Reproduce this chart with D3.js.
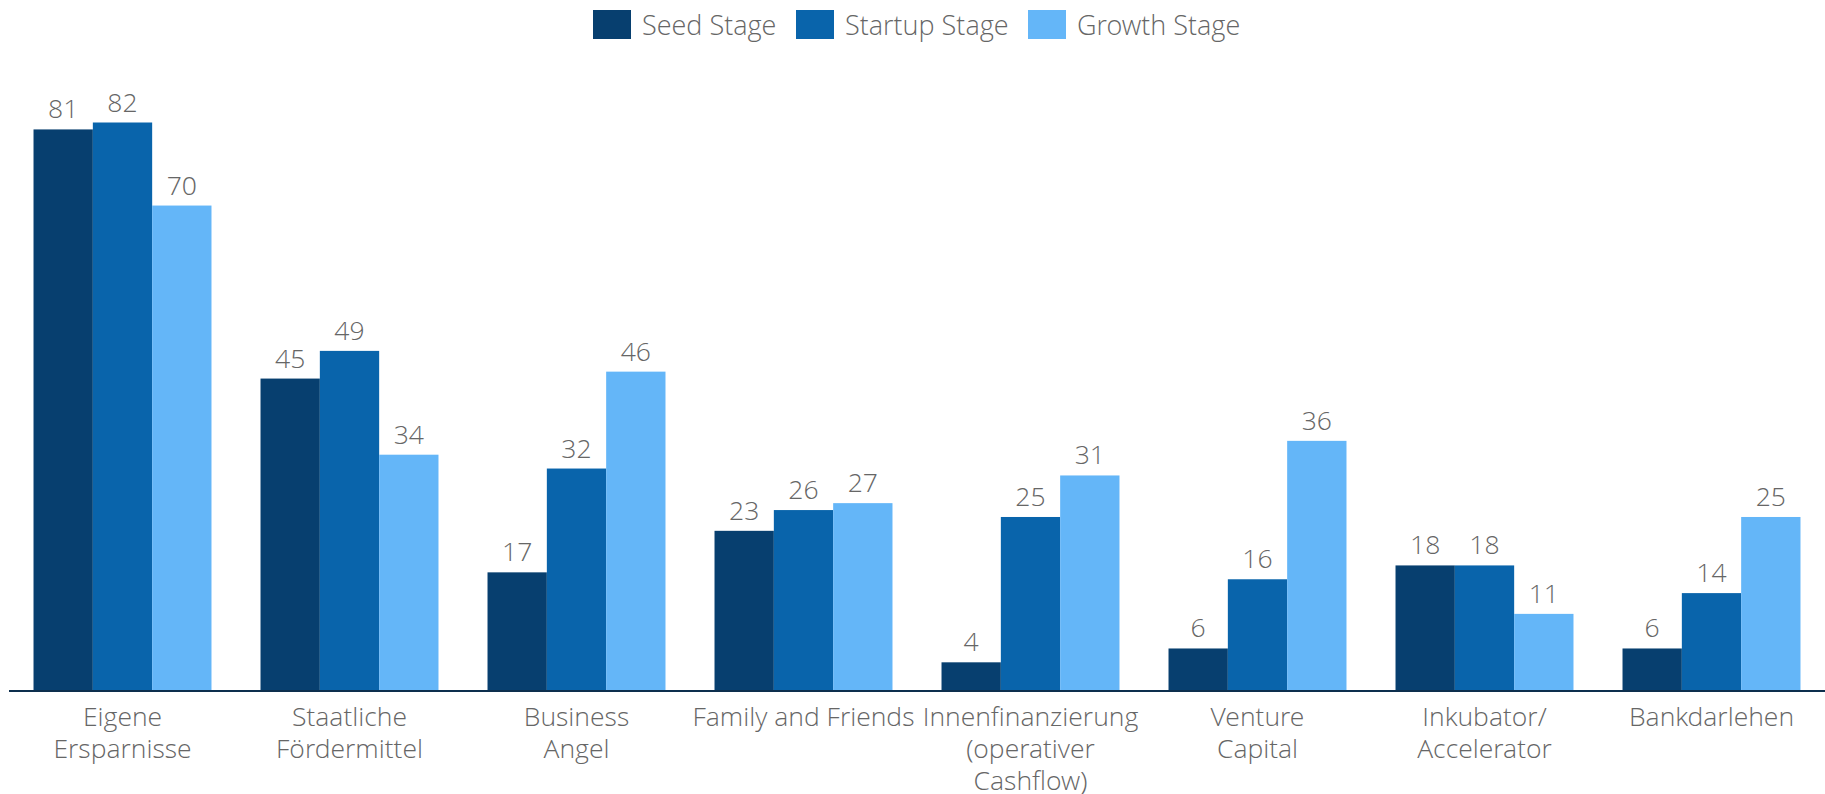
<!DOCTYPE html>
<html>
<head>
<meta charset="utf-8">
<script src="https://cdn.jsdelivr.net/npm/d3@7"></script>
<style>
  body { margin: 0; background: #fff; }
  svg text { font-family: "Open Sans Light", "Open Sans", sans-serif; font-weight: 300; fill: #666; }
</style>
</head>
<body>
<svg id="chart" width="1825" height="794"></svg>
<script>
// categories (lines of each x label)
var categories = [
  ["Eigene", "Ersparnisse"],
  ["Staatliche", "Fördermittel"],
  ["Business", "Angel"],
  ["Family and Friends"],
  ["Innenfinanzierung", "(operativer", "Cashflow)"],
  ["Venture", "Capital"],
  ["Inkubator/", "Accelerator"],
  ["Bankdarlehen"]
];
var seriesNames = ["Seed Stage", "Startup Stage", "Growth Stage"];
var seedStage    = [81, 45, 17, 23, 4, 6, 18, 6];
var startupStage = [82, 49, 32, 26, 25, 16, 18, 14];
var growthStage  = [70, 34, 46, 27, 31, 36, 11, 25];
var colors = ["#073f6f", "#0964ab", "#64b6f8"];

var series = [seedStage, startupStage, growthStage];
var keys = categories.map(function(c) { return c.join(" "); });

var svg = d3.select("#chart");

var x = d3.scaleBand()
  .domain(keys)
  .range([9, 1825])
  .paddingInner(0.216)
  .paddingOuter(0.108);

var xi = d3.scaleBand()
  .domain(d3.range(series.length))
  .range([0, x.bandwidth()]);

var y = d3.scaleLinear()
  .domain([0, 82])
  .range([690, 122.5]);

// bars
var groups = svg.append("g")
  .selectAll("g")
  .data(keys)
  .enter()
  .append("g")
    .attr("transform", function(d) { return "translate(" + x(d) + ",0)"; });

groups.selectAll("rect")
  .data(function(d, i) { return series.map(function(s, j) { return {s: j, v: s[i]}; }); })
  .enter()
  .append("rect")
    .attr("x", function(d) { return xi(d.s); })
    .attr("width", xi.bandwidth())
    .attr("y", function(d) { return y(d.v); })
    .attr("height", function(d) { return y(0) - y(d.v); })
    .attr("fill", function(d) { return colors[d.s]; });

groups.selectAll("text.value")
  .data(function(d, i) { return series.map(function(s, j) { return {s: j, v: s[i]}; }); })
  .enter()
  .append("text")
    .attr("class", "value")
    .attr("x", function(d) { return xi(d.s) + xi.bandwidth() / 2; })
    .attr("y", function(d) { return y(d.v) - 11; })
    .attr("text-anchor", "middle")
    .style("font-size", "26.5px")
    .text(function(d) { return d.v; });

// x axis line
svg.append("line")
  .attr("x1", 9).attr("x2", 1825)
  .attr("y1", 691).attr("y2", 691)
  .attr("stroke", "#0d2f4d")
  .attr("stroke-width", 2);

// category labels
var labels = svg.append("g")
  .selectAll("text")
  .data(categories)
  .enter()
  .append("text")
    .attr("text-anchor", "middle")
    .style("font-size", "26.5px")
    .attr("transform", function(d, i) { return "translate(" + (x(keys[i]) + x.bandwidth() / 2) + ",726)"; });

labels.selectAll("tspan")
  .data(function(d) { return d; })
  .enter()
  .append("tspan")
    .attr("x", 0)
    .attr("y", function(d, i) { return i * 32; })
    .text(function(d) { return d; });

// legend
var legendX = [593, 796, 1028];
var legend = svg.append("g")
  .selectAll("g")
  .data(seriesNames)
  .enter()
  .append("g")
    .attr("transform", function(d, i) { return "translate(" + legendX[i] + ",10)"; });

legend.append("rect")
  .attr("width", 38)
  .attr("height", 29)
  .attr("fill", function(d, i) { return colors[i]; });

legend.append("text")
  .attr("x", 49)
  .attr("y", 25)
  .style("font-size", "27px")
  .text(function(d) { return d; });
</script>
</body>
</html>
